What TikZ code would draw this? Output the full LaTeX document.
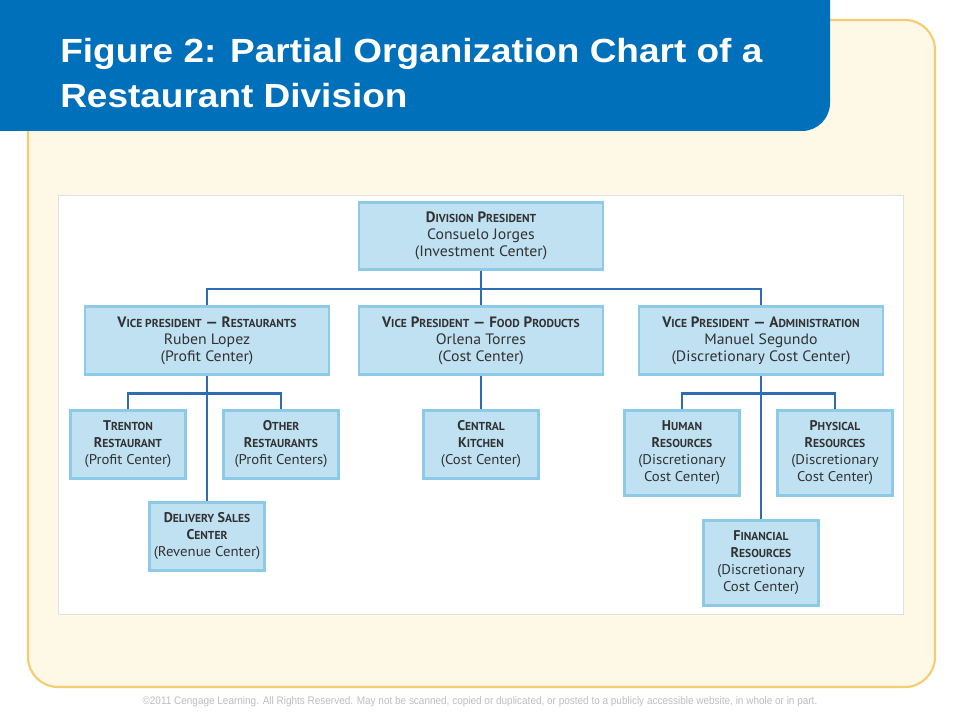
\documentclass[tikz,border=0pt]{standalone}
\usepackage{fontspec}
\usetikzlibrary{calc}
\setmainfont{PT Sans}[UprightFeatures={FakeStretch=1.05}]
\newfontfamily\titlefont[FakeStretch=1.105]{Liberation Sans}
\newfontfamily\notefont[FakeStretch=0.91]{Liberation Sans}
\definecolor{titleblue}{RGB}{0,112,186}
\definecolor{creamfill}{RGB}{254,248,231}
\definecolor{creamedge}{RGB}{245,205,112}
\definecolor{boxfill}{RGB}{191,225,242}
\definecolor{boxedge}{RGB}{141,202,232}
\definecolor{linkblue}{RGB}{46,109,180}
\definecolor{boxtext}{RGB}{50,50,50}
\definecolor{notegray}{RGB}{190,190,190}
\newcommand\sm[1]{{\fontsize{8.2pt}{9pt}\selectfont #1}}

\begin{document}
\begin{tikzpicture}[x=0.025cm,y=-0.025cm,
    unit/.style={rectangle,draw=boxedge,fill=boxfill,line width=2pt,align=center,inner sep=0pt,
        text=boxtext,font={\fontsize{10.7pt}{12.1pt}\selectfont}},
    head/.style={unit,minimum width=6.1cm,minimum height=1.68cm},
    part/.style={unit,minimum width=2.875cm,minimum height=1.7cm,font={\fontsize{10pt}{12.1pt}\selectfont}},
    tallpart/.style={part,minimum height=2.125cm},
    link/.style={draw=linkblue,line width=2.1pt}]
    \useasboundingbox (0,0) rectangle (960,720);
    % slide background
    \fill[white] (0,0) rectangle (960,720);
    \draw[creamedge,fill=creamfill,line width=1.5pt,rounded corners=0.75cm] (28,20) rectangle (935,687);
    \fill[titleblue] (0,0) -- (830,0) [rounded corners=0.7cm] -- (830,131) [sharp corners] -- (0,131) -- cycle;
    \node[anchor=north west,inner sep=0,align=left,text=white,font={\titlefont\bfseries\fontsize{23.8pt}{32pt}\selectfont}] (title) at (60,38)
        {Figure 2: Partial Organization Chart of a\\Restaurant Division};
    \fill[white] (58,195) rectangle (903,614);
    \draw[black!12,line width=0.5pt] (58,195) rectangle (903,614);

    % top level
    \node[head] (divpres) at (481,236) {
        {\bfseries D\sm{IVISION} P\sm{RESIDENT}}\\
        Consuelo Jorges\\
        (Investment Center)
    };

    % vice presidents
    \node[head] (vpfood) at ($ (divpres) + (0,104.5) $) {
        {\bfseries V\sm{ICE} P\sm{RESIDENT} --- F\sm{OOD} P\sm{RODUCTS}}\\
        Orlena Torres\\
        (Cost Center)
    };
    \node[head] (vprest) at ($ (vpfood) + (-274,0) $) {
        {\bfseries V\sm{ICE PRESIDENT} --- R\sm{ESTAURANTS}}\\
        Ruben Lopez\\
        (Profit Center)
    };
    \node[head] (vpadmin) at ($ (vpfood) + (280,0) $) {
        {\bfseries V\sm{ICE} P\sm{RESIDENT} --- A\sm{DMINISTRATION}}\\
        Manuel Segundo\\
        (Discretionary Cost Center)
    };

    % restaurants
    \node[part] (trenton) at ($ (vprest) + (-79,104) $) {
        {\bfseries T\sm{RENTON}}\\
        {\bfseries R\sm{ESTAURANT}}\\
        (Profit Center)
    };
    \node[part] (otherrest) at ($ (vprest) + (74,104) $) {
        {\bfseries O\sm{THER}}\\
        {\bfseries R\sm{ESTAURANTS}}\\
        (Profit Centers)
    };
    \node[part] (delivery) at ($ (vprest) + (0,196) $) {
        {\bfseries D\sm{ELIVERY} S\sm{ALES}}\\
        {\bfseries C\sm{ENTER}}\\
        (Revenue Center)
    };

    % food products
    \node[part] (kitchen) at ($ (vpfood) + (0,104) $) {
        {\bfseries C\sm{ENTRAL}}\\
        {\bfseries K\sm{ITCHEN}}\\
        (Cost Center)
    };

    % administration
    \node[tallpart] (humanres) at ($ (vpadmin) + (-79,112.5) $) {
        {\bfseries H\sm{UMAN}}\\
        {\bfseries R\sm{ESOURCES}}\\
        (Discretionary\\
        Cost Center)
    };
    \node[tallpart] (physres) at ($ (vpadmin) + (74,112.5) $) {
        {\bfseries P\sm{HYSICAL}}\\
        {\bfseries R\sm{ESOURCES}}\\
        (Discretionary\\
        Cost Center)
    };
    \node[tallpart] (finres) at ($ (vpadmin) + (0,222.5) $) {
        {\bfseries F\sm{INANCIAL}}\\
        {\bfseries R\sm{ESOURCES}}\\
        (Discretionary\\
        Cost Center)
    };

    \coordinate (topbar) at ($ (divpres.south) + (0,18) $);
    \coordinate (restbar) at ($ (vprest.south) + (0,18) $);
    \coordinate (adminbar) at ($ (vpadmin.south) + (0,18) $);

    \draw[link] (divpres.south) -- (vpfood.north);
    \draw[link] (vprest.north) |- (topbar) -| (vpadmin.north);
    \draw[link] (vprest.south) -- (delivery.north);
    \draw[link] (trenton.north) |- (restbar) -| (otherrest.north);
    \draw[link] (vpfood.south) -- (kitchen.north);
    \draw[link] (vpadmin.south) -- (finres.north);
    \draw[link] (humanres.north) |- (adminbar) -| (physres.north);

    \node[text=notegray,inner sep=0,font={\notefont\fontsize{7.8pt}{9pt}\selectfont}] (footer) at (480,702)
        {\copyright2011 Cengage Learning. All Rights Reserved. May not be scanned, copied or duplicated, or posted to a publicly accessible website, in whole or in part.};
\end{tikzpicture}
\end{document}
